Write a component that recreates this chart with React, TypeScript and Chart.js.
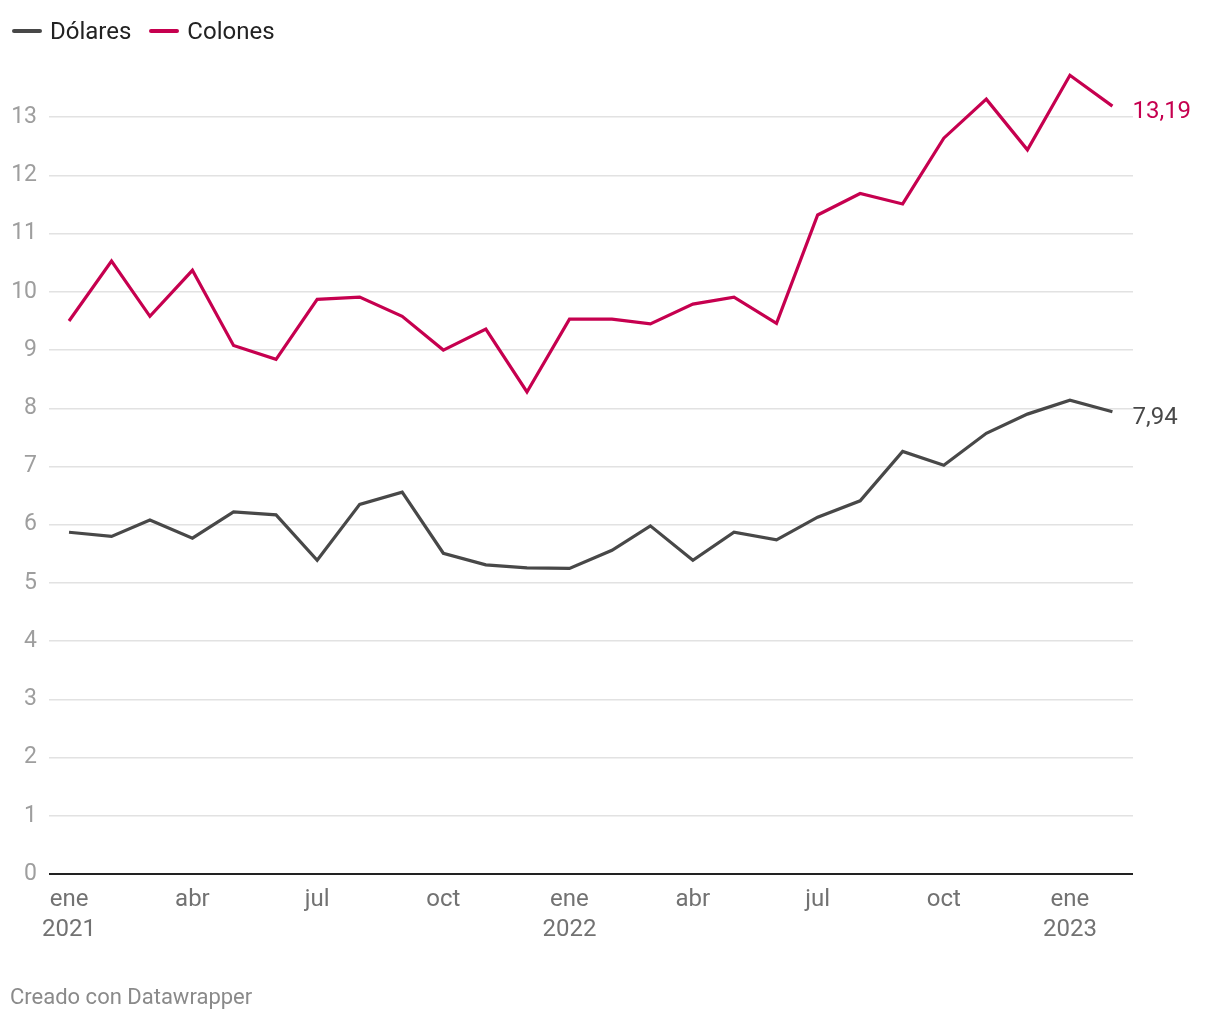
import React, { useEffect, useRef } from "react";
import { Chart, registerables } from "chart.js";

Chart.register(...registerables);

const dates = [
  "2021-01-01", "2021-02-01", "2021-03-01", "2021-04-01", "2021-05-01", "2021-06-01",
  "2021-07-01", "2021-08-01", "2021-09-01", "2021-10-01", "2021-11-01", "2021-12-01",
  "2022-01-01", "2022-02-01", "2022-03-01", "2022-04-01", "2022-05-01", "2022-06-01",
  "2022-07-01", "2022-08-01", "2022-09-01", "2022-10-01", "2022-11-01", "2022-12-01",
  "2023-01-01", "2023-02-01",
];

const dolares = [
  5.87, 5.80, 6.08, 5.77, 6.22, 6.17, 5.39, 6.35, 6.56, 5.51, 5.31, 5.26,
  5.25, 5.56, 5.98, 5.39, 5.87, 5.74, 6.13, 6.41, 7.26, 7.02, 7.57, 7.90,
  8.14, 7.94,
];

const colones = [
  9.50, 10.53, 9.58, 10.37, 9.08, 8.84, 9.87, 9.91, 9.58, 9.00, 9.36, 8.28,
  9.53, 9.53, 9.45, 9.79, 9.91, 9.46, 11.32, 11.69, 11.51, 12.64, 13.31, 12.44,
  13.72, 13.19,
];

const monthNames = ["ene", "feb", "mar", "abr", "may", "jun", "jul", "ago", "sep", "oct", "nov", "dic"];
const tickMonths = [1, 4, 7, 10];
const yTicks = [0, 1, 2, 3, 4, 5, 6, 7, 8, 9, 10, 11, 12, 13];

const seriesNames = ["Dólares", "Colones"];
const seriesColors = ["#484848", "#c6004f"];

const DAY = 86400000;
const t0 = Date.parse(dates[0]);
const dayOf = (d: string) => (Date.parse(d) - t0) / DAY;

export default function App() {
  const ref = useRef<HTMLCanvasElement | null>(null);

  useEffect(() => {
    if (!ref.current) return;
    const endLabels = {
      id: "endLabels",
      afterDatasetsDraw(chart: any) {
        const ctx = chart.ctx;
        ctx.save();
        ctx.font = "24px Roboto";
        ctx.textAlign = "left";
        ctx.textBaseline = "middle";
        chart.data.datasets.forEach((ds: any, i: number) => {
          const meta = chart.getDatasetMeta(i);
          const el = meta.data[meta.data.length - 1];
          const v = ds.data[ds.data.length - 1].y;
          ctx.fillStyle = seriesColors[i];
          ctx.fillText(v.toFixed(2).replace(".", ","), el.x + 20, el.y + 6);
        });
        ctx.restore();
      },
    };

    const chart = new Chart(ref.current, {
      type: "line",
      data: {
        datasets: [dolares, colones].map((arr, i) => ({
          label: seriesNames[i],
          data: arr.map((v, j) => ({ x: dayOf(dates[j]), y: v })),
          borderColor: seriesColors[i],
          backgroundColor: seriesColors[i],
          borderWidth: 3.2,
          pointRadius: 0,
          tension: 0,
          borderJoinStyle: "miter" as const,
        })),
      },
      options: {
        responsive: false,
        animation: false,
        layout: { padding: { left: 0, right: 87, top: 59, bottom: 76 } },
        plugins: { legend: { display: false }, tooltip: { enabled: false } },
        scales: {
          x: {
            type: "linear",
            min: -14.6,
            max: 776,
            afterBuildTicks(scale: any) {
              scale.ticks = dates
                .filter((d) => tickMonths.includes(parseInt(d.slice(5, 7), 10)))
                .map((d) => ({ value: dayOf(d) }));
            },
            afterFit(scale: any) {
              scale.height = 70;
            },
            grid: { display: false, drawTicks: false },
            border: { display: false },
            ticks: {
              autoSkip: false,
              maxRotation: 0,
              padding: 11,
              color: "#727272",
              font: { family: "Roboto", size: 24, lineHeight: 1.25 },
              callback(value: any) {
                const d = new Date(t0 + Math.round(Number(value)) * DAY);
                const m = d.getUTCMonth();
                const name = monthNames[m];
                return m === 0 ? [name, String(d.getUTCFullYear())] : name;
              },
            },
          },
          y: {
            min: 0,
            max: 14,
            afterBuildTicks(scale: any) {
              scale.ticks = yTicks.map((v) => ({ value: v }));
            },
            afterFit(scale: any) {
              scale.width = 49;
            },
            border: { display: false },
            grid: {
              drawTicks: false,
              color: (c: any) => (c.tick && c.tick.value === 0 ? "#222222" : "#e2e2e2"),
              lineWidth: (c: any) => (c.tick && c.tick.value === 0 ? 2 : 1.5),
            },
            ticks: {
              padding: 12,
              color: "#9e9e9e",
              font: { family: "Roboto", size: 23 },
              callback: (v: any) => String(v),
            },
          },
        },
      },
      plugins: [endLabels],
    } as any);
    return () => chart.destroy();
  }, []);

  const legendText: React.CSSProperties = {
    fontFamily: "Roboto",
    fontSize: 24,
    color: "#222",
    lineHeight: "28px",
  };

  return (
    <div style={{ position: "fixed", left: 0, top: 0, width: 1220, height: 1020, background: "#fff" }}>
      <canvas ref={ref} width={1220} height={1020} style={{ position: "absolute", left: 0, top: 0 }} />
      <div style={{ position: "absolute", left: 12, top: 17, display: "flex", alignItems: "center" }}>
        {seriesNames.map((n, i) => (
          <div key={n} style={{ display: "flex", alignItems: "center", marginRight: 18 }}>
            <div style={{ width: 30, height: 4, borderRadius: 2, background: seriesColors[i], marginRight: 8 }} />
            <span style={legendText}>{n}</span>
          </div>
        ))}
      </div>
      <div
        style={{
          position: "absolute",
          left: 10,
          top: 984,
          fontFamily: "Roboto",
          fontSize: 22,
          color: "#8a8a8a",
          lineHeight: "26px",
        }}
      >
        Creado con Datawrapper
      </div>
    </div>
  );
}
